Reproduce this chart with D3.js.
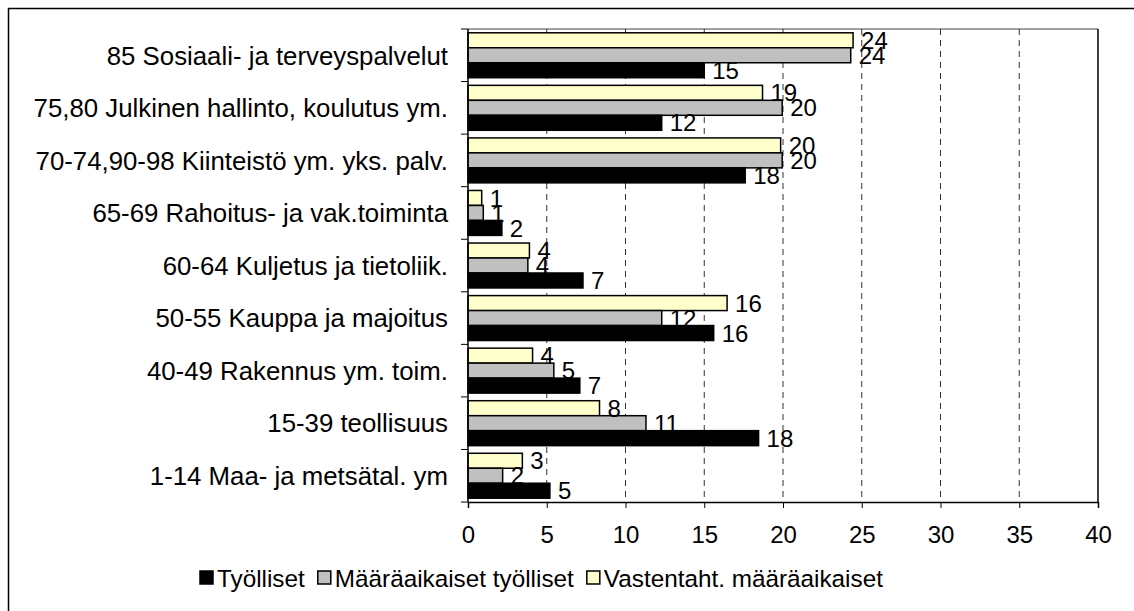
<!DOCTYPE html>
<html>
<head>
<meta charset="utf-8">
<script src="https://cdn.jsdelivr.net/npm/d3@7"></script>
<style>
  body { margin: 0; background: #fff; }
  svg text { font-family: "Liberation Sans", Arial, sans-serif; fill: #000; }
</style>
</head>
<body>
<svg id="chart"></svg>
<script>
// Categories, top to bottom as in the picture
const categories = [
  "85 Sosiaali- ja terveyspalvelut",
  "75,80 Julkinen hallinto, koulutus ym.",
  "70-74,90-98 Kiinteistö ym. yks. palv.",
  "65-69 Rahoitus- ja vak.toiminta",
  "60-64 Kuljetus ja tietoliik.",
  "50-55 Kauppa ja majoitus",
  "40-49 Rakennus ym. toim.",
  "15-39 teollisuus",
  "1-14 Maa- ja metsätal. ym"
];

const seriesNames = ["Työlliset", "Määräaikaiset työlliset", "Vastentaht. määräaikaiset"];

// Values per series (same order as categories)
const tyolliset   = [15.0, 12.3, 17.6, 2.15, 7.3, 15.6, 7.1, 18.45, 5.2];
const maaraaik    = [24.3, 19.95, 19.95, 0.97, 3.8, 12.3, 5.45, 11.3, 2.2];
const vastentaht  = [24.45, 18.7, 19.85, 0.87, 3.9, 16.45, 4.1, 8.35, 3.45];

const xTicks = [0, 5, 10, 15, 20, 25, 30, 35, 40];

const colors = ["#000000", "#C0C0C0", "#FFFFCC"];

const width = 1134, height = 611;
const margin = { top: 29, right: 36, bottom: 109, left: 468 };

const svg = d3.select("#chart")
    .attr("width", width)
    .attr("height", height);

// outer frame (cut off at right and bottom)
svg.append("rect")
    .attr("x", 8.5).attr("y", 8.5)
    .attr("width", width).attr("height", height)
    .attr("fill", "none")
    .attr("stroke", "#000")
    .attr("stroke-width", 1.5);

const x = d3.scaleLinear()
    .domain([0, 40])
    .range([margin.left, width - margin.right]);

const y0 = d3.scaleBand()
    .domain(categories)
    .range([margin.top, height - margin.bottom])
    .paddingInner(0.145)
    .paddingOuter(0.072);

// inside each group: yellow on top, gray, black at bottom
const order = [2, 1, 0];
const y1 = d3.scaleBand()
    .domain(order)
    .range([0, y0.bandwidth()]);

const step = y0.step();
const plotTop = margin.top, plotBottom = height - margin.bottom;

// plot area top edge
svg.append("line")
    .attr("x1", x(0)).attr("x2", x(40))
    .attr("y1", plotTop).attr("y2", plotTop)
    .attr("stroke", "#808080").attr("stroke-width", 1.5);

// dashed gridlines
svg.append("g")
    .selectAll("line")
    .data(xTicks.filter(d => d > 0 && d < 40))
    .join("line")
    .attr("x1", d => x(d)).attr("x2", d => x(d))
    .attr("y1", plotTop).attr("y2", plotBottom)
    .attr("stroke", "#333")
    .attr("stroke-width", 1)
    .attr("stroke-dasharray", "6,5");

// right edge of the plot area
svg.append("line")
    .attr("x1", x(40)).attr("x2", x(40))
    .attr("y1", plotTop).attr("y2", plotBottom)
    .attr("stroke", "#000").attr("stroke-width", 1.5);

const seriesData = [tyolliset, maaraaik, vastentaht];

const rows = [];
categories.forEach((c, i) => {
    order.forEach(s => rows.push({ cat: c, s: s, v: seriesData[s][i] }));
});

// bars
svg.append("g")
    .selectAll("rect")
    .data(rows)
    .join("rect")
    .attr("x", x(0))
    .attr("y", d => y0(d.cat) + y1(d.s))
    .attr("width", d => x(d.v) - x(0))
    .attr("height", y1.bandwidth())
    .attr("fill", d => colors[d.s])
    .attr("stroke", "#000")
    .attr("stroke-width", 1.5);

// value labels
svg.append("g")
    .selectAll("text")
    .data(rows)
    .join("text")
    .attr("x", d => x(d.v) + 8)
    .attr("y", d => y0(d.cat) + y1(d.s) + y1.bandwidth() / 2)
    .attr("dy", "0.36em")
    .style("font-size", "24px")
    .text(d => Math.round(d.v));

// x axis
const xAxis = svg.append("g")
    .attr("transform", `translate(0,${plotBottom})`)
    .call(d3.axisBottom(x).tickValues(xTicks).tickSize(6).tickPadding(18));
xAxis.select(".domain").attr("stroke-width", 1.5);
xAxis.selectAll("text").style("font-size", "24px").attr("font-family", null);

// y axis: ticks at group boundaries
const yAxis = svg.append("g");
yAxis.append("line")
    .attr("x1", x(0)).attr("x2", x(0))
    .attr("y1", plotTop).attr("y2", plotBottom)
    .attr("stroke", "#000").attr("stroke-width", 1.5);
yAxis.selectAll("line.tick")
    .data(d3.range(categories.length + 1))
    .join("line")
    .attr("class", "tick")
    .attr("x1", x(0) - 7).attr("x2", x(0))
    .attr("y1", i => plotTop + i * step)
    .attr("y2", i => plotTop + i * step)
    .attr("stroke", "#000").attr("stroke-width", 1);

// category labels
svg.append("g")
    .selectAll("text")
    .data(categories)
    .join("text")
    .attr("x", x(0) - 20)
    .attr("y", d => y0(d) + y0.bandwidth() / 2)
    .attr("dy", "0.36em")
    .attr("text-anchor", "end")
    .style("font-size", "25.8px")
    .text(d => d);

// legend
const legend = svg.append("g").attr("transform", "translate(0,578)");
let lx = 200;
[0, 1, 2].forEach(s => {
    legend.append("rect")
        .attr("x", lx).attr("y", -7)
        .attr("width", 13).attr("height", 13)
        .attr("fill", colors[s])
        .attr("stroke", "#000").attr("stroke-width", 1.5);
    const t = legend.append("text")
        .attr("x", lx + 17)
        .attr("dy", "0.36em")
        .style("font-size", "24.3px")
        .text(seriesNames[s]);
    lx += 17 + t.node().getComputedTextLength() + 13;
});
</script>
</body>
</html>
